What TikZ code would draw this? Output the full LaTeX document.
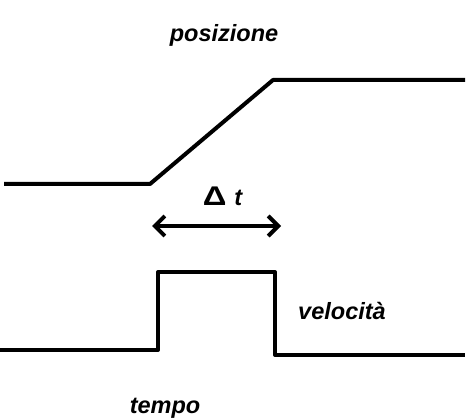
\documentclass[tikz,border=0pt]{standalone}
\usepackage{graphicx}
\usepackage{fontspec}
\setmainfont{Liberation Sans}
\usetikzlibrary{arrows.meta}
\begin{document}
\begin{tikzpicture}[x=1pt, y=-1pt, line join=round, every node/.style={font=\fontsize{23.5}{28}\selectfont\bfseries\itshape}, segnale/.style={line width=4pt}]
			
			\useasboundingbox (0,0) rectangle (475,420);
			
			% posizione
			\coordinate (p0) at (4,184);
			\coordinate (p1) at (150,184);
			\coordinate (p2) at (273,80);
			\coordinate (p3) at (465,80);
			\draw[segnale] (p0) -- (p1) -- (p2) -- (p3);
			
			\node (pos) at (224,35) {posizione};
			
			% intervallo
			\coordinate (a0) at (152,226);
			\coordinate (a1) at (281,226);
			\draw[segnale, {Straight Barb[length=10pt, width=20pt, line width=4pt]}-{Straight Barb[length=10pt, width=20pt, line width=4pt]}] (a0) -- (a1);
			
			\node (dt) at (222.5,196) {\scalebox{1.4}[1.15]{\upshape Δ}\hspace{8pt}t};
			
			% velocita
			\coordinate (v0) at (0,350);
			\coordinate (v1) at (158,350);
			\coordinate (v2) at (158,272);
			\coordinate (v3) at (275,272);
			\coordinate (v4) at (275,355);
			\coordinate (v5) at (465,355);
			\draw[segnale] (v0) -- (v1) -- (v2) -- (v3) -- (v4) -- (v5);
			
			\node (vel) at (342,311) {velocità};
			
			\node (tem) at (165,408) {tempo};
			
		\end{tikzpicture}
\end{document}
